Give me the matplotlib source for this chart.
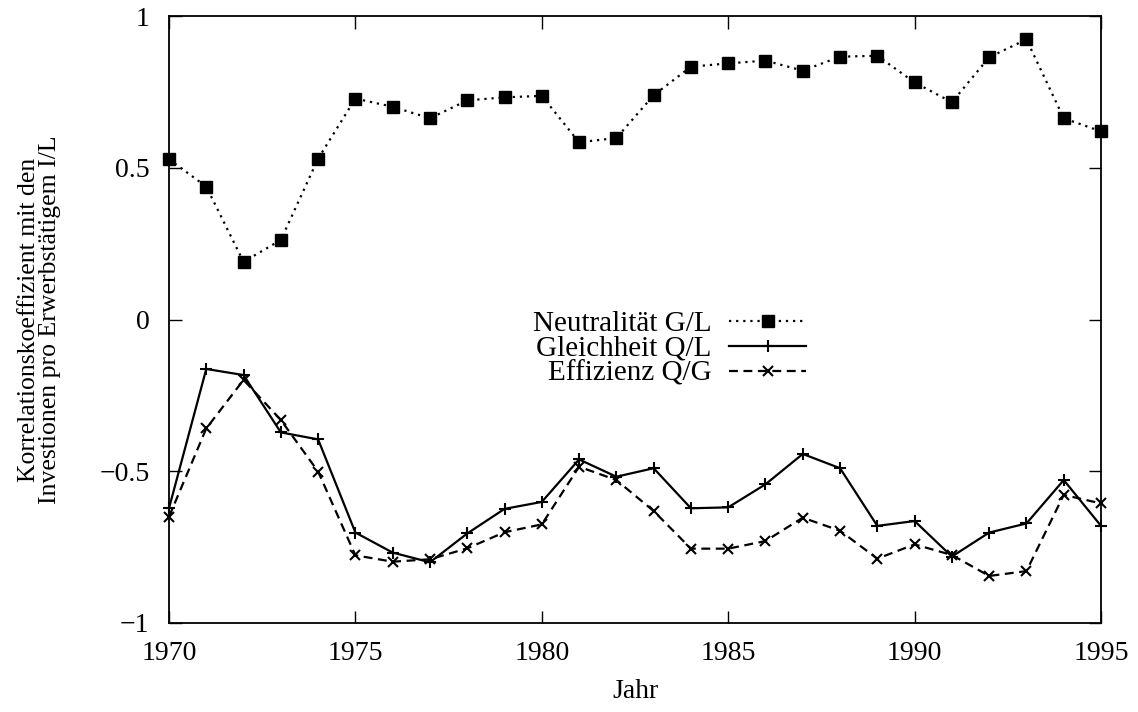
import numpy as np
import matplotlib
matplotlib.use('Agg')
import matplotlib.pyplot as plt

plt.rcParams['font.family'] = ['Liberation Serif', 'DejaVu Serif']
plt.rcParams['font.size'] = 20

jahre = list(range(1970, 1996))
neutralitaet = [0.528, 0.438, 0.190, 0.262, 0.530, 0.728, 0.701, 0.663, 0.722, 0.732,
                0.737, 0.584, 0.598, 0.739, 0.833, 0.844, 0.853, 0.820, 0.866, 0.869,
                0.781, 0.716, 0.864, 0.923, 0.663, 0.620]
gleichheit = [-0.622, -0.163, -0.183, -0.372, -0.395, -0.702, -0.768, -0.800, -0.705, -0.624,
              -0.601, -0.461, -0.518, -0.490, -0.622, -0.619, -0.543, -0.443, -0.490, -0.680,
              -0.664, -0.781, -0.702, -0.672, -0.529, -0.680]
effizienz = [-0.650, -0.359, -0.199, -0.331, -0.501, -0.777, -0.798, -0.790, -0.754, -0.701,
             -0.675, -0.485, -0.529, -0.631, -0.755, -0.755, -0.730, -0.653, -0.696, -0.788,
             -0.741, -0.776, -0.845, -0.829, -0.578, -0.606]

fig = plt.figure(figsize=(11.38, 7.12), dpi=100)
ax = fig.add_axes([0.1485, 0.125, 0.819, 0.8525])

ax.plot(jahre, neutralitaet, color='black', linestyle=(0, (1, 2.2)), linewidth=1.6,
        marker='s', markersize=8, clip_on=False, label='Neutralität G/L')
ax.plot(jahre, gleichheit, color='black', linestyle='-', linewidth=1.6,
        marker='+', markersize=8, markeredgewidth=1.5, clip_on=False, label='Gleichheit Q/L')
ax.plot(jahre, effizienz, color='black', linestyle=(0, (4, 2.5)), linewidth=1.6,
        marker='x', markersize=7, markeredgewidth=1.5, clip_on=False, label='Effizienz Q/G')

ax.set_xlim(1970, 1995)
ax.set_ylim(-1, 1)
ax.set_xticks([1970, 1975, 1980, 1985, 1990, 1995])
ax.set_yticks([-1, -0.5, 0, 0.5, 1])
ax.set_yticklabels(['\u22121', '\u22120.5', '0', '0.5', '1'])
ax.tick_params(direction='in', top=True, right=True, length=9, width=1)
ax.tick_params(axis='x', pad=13)
ax.tick_params(axis='y', pad=14)
for s in ax.spines.values():
    s.set_linewidth(1.3)

ax.set_xlabel('Jahr')
ax.xaxis.set_label_coords(0.5, -0.093)
ax.set_ylabel('Korrelationskoeffizient mit den\nInvestionen pro Erwerbstätigem I/L',
              fontsize=18.5, linespacing=0.92)
ax.yaxis.set_label_coords(-0.116, 0.5)

leg = ax.legend(loc='center', bbox_to_anchor=(0.537, 0.452), frameon=False, fontsize=21,
                markerfirst=False, handlelength=2.65, labelspacing=-0.05, handletextpad=0.6,
                alignment='right', borderpad=0)
for t in leg.get_texts():
    t.set_ha('right')

fig.savefig('out.png', dpi=100)
